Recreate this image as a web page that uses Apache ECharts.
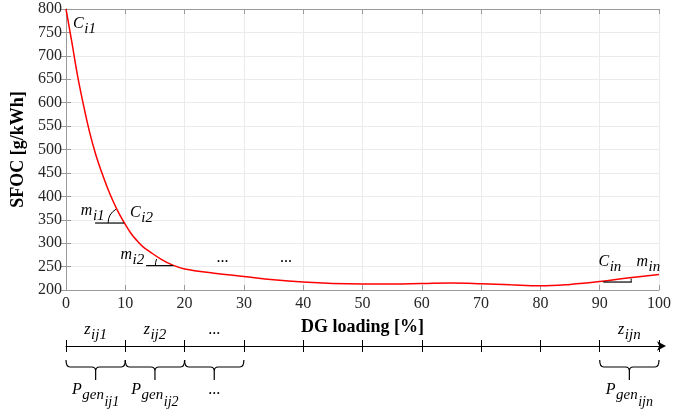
<!DOCTYPE html>
<html>
<head>
<meta charset="utf-8">
<script src="https://cdn.jsdelivr.net/npm/echarts@6/dist/echarts.min.js"></script>
<style>
  html, body { margin: 0; padding: 0; background: #fff; }
  #chart { width: 697px; height: 413px; }
</style>
</head>
<body>
<div id="chart"></div>
<script>
// SFOC curve over DG loading
const loadPct = [0, 1, 2, 3, 4, 5, 6, 7, 8, 9, 10, 11, 12, 13, 14, 16, 18, 20, 25, 30, 35, 40, 45, 50, 55, 60, 65, 70, 75, 80, 85, 90, 95, 100];
const sfoc = [800, 728, 654, 592, 536, 490, 452, 418, 388, 362, 340, 320, 305, 292, 283, 266, 253, 245, 236, 229, 222, 217, 214, 213, 213, 214, 215, 213.5, 211, 209, 212, 218, 226, 233];

// labels along the curve (x = load where text starts, y = SFOC of baseline)
const noteLabels = ['C_{i1}', 'm_{i1}', 'C_{i2}', 'm_{i2}', '...', '...', 'C_{in}', 'm_{in}'];
const noteX = [1.2, 2.5, 10.8, 9.2, 25.4, 36.1, 89.8, 96.2];
const noteY = [759, 358, 354, 264, 258, 258, 250, 250];

// tangent angle markers: horizontal segment at a given SFOC level
const tanFrom = [4.9, 13.5, 90.6];
const tanTo = [9.8, 18.1, 95.4];
const tanLevel = [343, 252, 217];
const tanRadius = [16, 18, 28];

// loading segments on the lower axis
const segStart = [0, 10, 20, 90];
const segEnd = [10, 20, 30, 100];
const segTop = ['z_{ij1}', 'z_{ij2}', '...', 'z_{ijn}'];
const segBottom = ['P_{gen_{ij1}}', 'P_{gen_{ij2}}', '...', 'P_{gen_{ijn}}'];

const FONT = 'Liberation Serif';
const subSize = [16, 15, 14];
const subDrop = [0, 5, 12];

const measureCtx = document.createElement('canvas').getContext('2d');

// 'P_{gen_{ij1}}' -> [{t:'P',l:0},{t:'gen',l:1},{t:'ij1',l:2}]
function parseSub(str) {
  const parts = [];
  let level = 0, buf = '';
  for (let i = 0; i < str.length; i++) {
    const c = str[i];
    if (c === '_' && str[i + 1] === '{') {
      if (buf) parts.push({ t: buf, l: level });
      buf = ''; level++; i++;
    } else if (c === '}') {
      if (buf) parts.push({ t: buf, l: level });
      buf = ''; level--;
    } else {
      buf += c;
    }
  }
  if (buf) parts.push({ t: buf, l: level });
  return parts;
}

function subText(str, x, baseY, align) {
  const parts = parseSub(str);
  parts.forEach(p => {
    measureCtx.font = 'italic ' + subSize[p.l] + 'px "' + FONT + '"';
    p.w = measureCtx.measureText(p.t).width;
  });
  const gap = 0.5;
  const total = parts.reduce((s, p) => s + p.w, 0) + gap * (parts.length - 1);
  let cx = align === 'center' ? x - total / 2 : x;
  return parts.map(p => {
    const el = {
      type: 'text',
      x: cx,
      y: baseY + subDrop[p.l] - 0.3 * subSize[p.l],
      style: {
        text: p.t, fill: '#000',
        fontStyle: p.t === '...' ? 'normal' : 'italic',
        fontSize: subSize[p.l], fontFamily: FONT,
        align: 'left', verticalAlign: 'middle'
      }
    };
    cx += p.w + gap;
    return el;
  });
}

function curveAt(x) {
  for (let i = 1; i < loadPct.length; i++) {
    if (x <= loadPct[i]) {
      const t = (x - loadPct[i - 1]) / (loadPct[i] - loadPct[i - 1]);
      return sfoc[i - 1] + t * (sfoc[i] - sfoc[i - 1]);
    }
  }
  return sfoc[sfoc.length - 1];
}

const frameColor = '#9a9a9a';
const labelStyle = { fontFamily: FONT, fontSize: 16, color: '#262626' };

const chart = echarts.init(document.getElementById('chart'));

chart.setOption({
  animation: false,
  grid: { left: 66, right: 38, top: 9, bottom: 123 },
  xAxis: [
    {
      type: 'value', position: 'bottom', min: 0, max: 100, interval: 10,
      name: 'DG loading [%]', nameLocation: 'middle', nameGap: 28,
      nameTextStyle: { fontFamily: FONT, fontSize: 18, fontWeight: 'bold', color: '#000' },
      axisLine: { show: true, lineStyle: { color: frameColor } },
      axisTick: { show: true, inside: true, length: 5, lineStyle: { color: frameColor } },
      axisLabel: Object.assign({ margin: 6 }, labelStyle),
      splitLine: { show: true, lineStyle: { color: '#ebebeb' } }
    },
    {
      type: 'value', position: 'top', min: 0, max: 100, interval: 10,
      axisLine: { show: true, lineStyle: { color: frameColor } },
      axisTick: { show: true, inside: true, length: 5, lineStyle: { color: frameColor } },
      axisLabel: { show: false },
      splitLine: { show: false }
    },
    {
      // lower loading axis, ticks below the line
      type: 'value', position: 'bottom', offset: 56, min: 0, max: 100, interval: 10,
      axisLine: {
        show: true, symbol: ['none', 'arrow'], symbolSize: [7, 9], symbolOffset: [0, 7],
        lineStyle: { color: '#000', width: 1 }
      },
      axisTick: { show: true, length: 6, lineStyle: { color: '#000' } },
      axisLabel: { show: false },
      splitLine: { show: false }
    },
    {
      // same axis, ticks above the line
      type: 'value', position: 'bottom', offset: 56, min: 0, max: 100, interval: 10,
      axisLine: { show: false },
      axisTick: { show: true, inside: true, length: 6, lineStyle: { color: '#000' } },
      axisLabel: { show: false },
      splitLine: { show: false }
    }
  ],
  yAxis: [
    {
      type: 'value', position: 'left', min: 200, max: 800, interval: 50,
      name: 'SFOC [g/kWh]', nameLocation: 'middle', nameGap: 32,
      nameTextStyle: { fontFamily: FONT, fontSize: 18, fontWeight: 'bold', color: '#000' },
      axisLine: { show: true, lineStyle: { color: frameColor } },
      axisTick: { show: true, inside: true, length: 5, lineStyle: { color: frameColor } },
      axisLabel: Object.assign({ margin: 4 }, labelStyle),
      splitLine: { show: true, lineStyle: { color: '#ebebeb' } }
    },
    {
      type: 'value', position: 'right', min: 200, max: 800, interval: 50,
      axisLine: { show: true, lineStyle: { color: frameColor } },
      axisTick: { show: true, inside: true, length: 5, lineStyle: { color: frameColor } },
      axisLabel: { show: false },
      splitLine: { show: false }
    }
  ],
  series: [
    {
      type: 'line',
      xAxisIndex: 0, yAxisIndex: 0,
      data: loadPct.map((x, i) => [x, sfoc[i]]),
      smooth: 0.4,
      showSymbol: false,
      lineStyle: { color: '#ff0000', width: 1.5 },
      z: 3
    },
    {
      // text along the curve
      type: 'custom',
      xAxisIndex: 0, yAxisIndex: 0,
      silent: true,
      data: noteX.map((x, i) => [x, noteY[i]]),
      renderItem: (params, api) => {
        const i = params.dataIndex;
        const p = api.coord([noteX[i], noteY[i]]);
        return { type: 'group', children: subText(noteLabels[i], p[0], p[1], 'left') };
      },
      z: 4
    },
    {
      // tangent angle markers
      type: 'custom',
      xAxisIndex: 0, yAxisIndex: 0,
      silent: true,
      data: tanFrom.map((x, i) => [x, tanLevel[i]]),
      renderItem: (params, api) => {
        const i = params.dataIndex;
        const a = api.coord([tanFrom[i], tanLevel[i]]);
        const b = api.coord([tanTo[i], tanLevel[i]]);
        // vertex is the end that lies on the curve
        const rightVertex = Math.abs(curveAt(tanTo[i]) - tanLevel[i]) < Math.abs(curveAt(tanFrom[i]) - tanLevel[i]);
        const vx = rightVertex ? tanTo[i] : tanFrom[i];
        const p1 = api.coord([vx - 0.5, curveAt(vx - 0.5)]);
        const p2 = api.coord([vx + 0.5, curveAt(vx + 0.5)]);
        const theta = Math.atan(Math.abs((p2[1] - p1[1]) / (p2[0] - p1[0])));
        const arc = rightVertex
          ? { cx: b[0], cy: b[1], r: tanRadius[i], startAngle: Math.PI, endAngle: Math.PI + theta, clockwise: true }
          : { cx: a[0], cy: a[1], r: tanRadius[i], startAngle: 0, endAngle: -theta, clockwise: false };
        return {
          type: 'group',
          children: [
            { type: 'line', shape: { x1: a[0], y1: a[1], x2: b[0], y2: b[1] }, style: { stroke: '#000', lineWidth: 1.2 } },
            { type: 'arc', shape: arc, style: { stroke: '#000', fill: null, lineWidth: 1 } }
          ]
        };
      },
      z: 4
    },
    {
      // braces and labels under the lower axis
      type: 'custom',
      xAxisIndex: 0, yAxisIndex: 0,
      silent: true,
      data: segStart.map((x, i) => [x, 200, segEnd[i]]),
      renderItem: (params, api) => {
        const i = params.dataIndex;
        const x0 = api.coord([segStart[i], 200])[0];
        const x1 = api.coord([segEnd[i], 200])[0];
        const base = api.coord([0, 200])[1];
        const xm = (x0 + x1) / 2;
        const yT = base + 70, yH = base + 77, yB = base + 90;
        const d = [
          'M', x0, yT, 'Q', x0, yH, x0 + 4, yH, 'L', xm - 4, yH, 'Q', xm, yH, xm, yH + 4, 'L', xm, yB,
          'M', xm, yH + 4, 'Q', xm, yH, xm + 4, yH, 'L', x1 - 4, yH, 'Q', x1, yH, x1, yT
        ].join(' ');
        return {
          type: 'group',
          children: [
            { type: 'path', shape: { pathData: d }, style: { stroke: '#000', fill: null, lineWidth: 1.2 } }
          ].concat(subText(segTop[i], xm, base + 45, 'center'))
           .concat(subText(segBottom[i], xm, base + 105, 'center'))
        };
      },
      z: 4
    }
  ]
});
</script>
</body>
</html>
